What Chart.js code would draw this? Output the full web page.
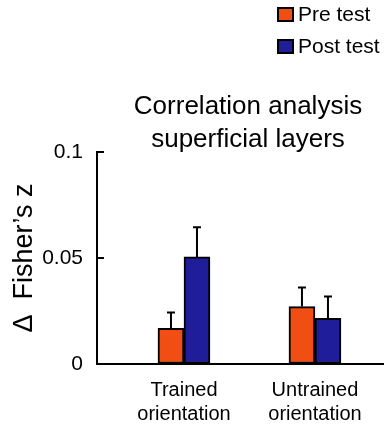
<!DOCTYPE html>
<html>
<head>
<meta charset="utf-8">
<script src="https://cdn.jsdelivr.net/npm/chart.js@4/dist/chart.umd.min.js"></script>
<style>
  html, body { margin: 0; padding: 0; background: #fff; }
  #wrap { width: 384px; height: 424px; position: relative; }
</style>
</head>
<body>
<div id="wrap"><canvas id="c" width="384" height="424"></canvas></div>
<script>
// ---- data ----
const categories = [["Trained", "orientation"], ["Untrained", "orientation"]];
const seriesNames = ["Pre test", "Post test"];
const preValues = [0.0168, 0.0271];
const postValues = [0.0505, 0.0215];
const preErrors = [0.0075, 0.009];
const postErrors = [0.014, 0.0103];
const yTicks = [0, 0.05, 0.1];
const titleLines = ["Correlation analysis", "superficial layers"];
const yTitle = "\u0394  Fisher\u2019s z";

const FONT = "'Liberation Sans', Arial, Helvetica, sans-serif";
const ORANGE = "rgb(240,78,18)";
const BLUE = "rgb(31,29,153)";

const errorsByDataset = [preErrors, postErrors];

const errorBarPlugin = {
  id: "errorBars",
  afterDatasetsDraw(chart) {
    const ctx = chart.ctx;
    const yScale = chart.scales.y;
    ctx.save();
    ctx.strokeStyle = "#000";
    ctx.lineWidth = 2;
    chart.data.datasets.forEach((ds, di) => {
      const meta = chart.getDatasetMeta(di);
      meta.data.forEach((bar, i) => {
        const v = ds.data[i].y;
        const e = errorsByDataset[di][i];
        const yTop = yScale.getPixelForValue(v + e);
        ctx.beginPath();
        ctx.moveTo(bar.x, bar.y);
        ctx.lineTo(bar.x, yTop);
        ctx.moveTo(bar.x - 4, yTop);
        ctx.lineTo(bar.x + 4, yTop);
        ctx.stroke();
      });
    });
    ctx.restore();
  }
};

const innerTicksPlugin = {
  id: "innerTicks",
  afterDraw(chart) {
    const ctx = chart.ctx;
    const yScale = chart.scales.y;
    const left = chart.chartArea.left;
    ctx.save();
    ctx.strokeStyle = "#000";
    ctx.lineWidth = 2;
    yScale.ticks.forEach(t => {
      const y = Math.round(yScale.getPixelForValue(t.value));
      ctx.beginPath();
      ctx.moveTo(left - 1, y);
      ctx.lineTo(left + 7, y);
      ctx.stroke();
    });
    ctx.restore();
  }
};

const headerPlugin = {
  id: "header",
  afterDraw(chart) {
    const ctx = chart.ctx;
    ctx.save();
    // title
    ctx.fillStyle = "#000";
    ctx.font = "26px " + FONT;
    ctx.textAlign = "center";
    ctx.textBaseline = "alphabetic";
    ctx.fillText(titleLines[0], 248, 114);
    ctx.fillText(titleLines[1], 248, 147);
    // legend
    ctx.font = "21px " + FONT;
    ctx.textAlign = "left";
    ctx.textBaseline = "middle";
    chart.data.datasets.forEach((ds, i) => {
      const by = 8 + i * 32;
      ctx.fillStyle = ds.backgroundColor;
      ctx.fillRect(278, by, 15, 13);
      ctx.strokeStyle = "#000";
      ctx.lineWidth = 2;
      ctx.strokeRect(278, by, 15, 13);
      ctx.fillStyle = "#000";
      ctx.fillText(ds.label, 298, by + 7);
    });
    ctx.restore();
  }
};

const colors = [ORANGE, BLUE];
const valueSets = [preValues, postValues];

new Chart(document.getElementById("c"), {
  type: "bar",
  data: {
    datasets: seriesNames.map((name, di) => ({
      label: name,
      data: valueSets[di].map((v, i) => ({ x: i, y: v })),
      backgroundColor: colors[di],
      borderColor: "#000",
      borderWidth: 2,
      borderSkipped: false,
      barThickness: 26
    }))
  },
  options: {
    responsive: false,
    animation: false,
    devicePixelRatio: 1,
    layout: { padding: { top: 152, right: 0, bottom: 0, left: 0 } },
    plugins: {
      legend: { display: false },
      title: { display: false },
      tooltip: { enabled: false }
    },
    scales: {
      x: {
        type: "linear",
        offset: false,
        min: -0.664,
        max: 1.527,
        afterBuildTicks(scale) {
          scale.ticks = categories.map((c, i) => ({ value: i }));
        },
        afterFit(scale) { scale.height = 60; },
        ticks: {
          autoSkip: false,
          maxRotation: 0,
          padding: 14,
          color: "#000",
          font: { family: FONT, size: 20, lineHeight: 1.2 },
          callback: (v) => categories[v]
        },
        grid: { display: true, drawOnChartArea: false, drawTicks: false },
        border: { display: true, color: "#000", width: 2 }
      },
      y: {
        min: 0,
        max: 0.1,
        afterBuildTicks(scale) {
          scale.ticks = yTicks.map(v => ({ value: v }));
        },
        afterFit(scale) { scale.width = 97; },
        ticks: {
          padding: 14,
          color: "#000",
          font: { family: FONT, size: 21 },
          callback: (v) => String(v)
        },
        grid: { display: true, drawOnChartArea: false, drawTicks: false },
        border: { display: true, color: "#000", width: 2 },
        title: {
          display: true,
          text: yTitle,
          color: "#000",
          font: { family: FONT, size: 27 },
          padding: { top: 8, bottom: 0 }
        }
      }
    }
  },
  plugins: [errorBarPlugin, innerTicksPlugin, headerPlugin]
});
</script>
</body>
</html>
